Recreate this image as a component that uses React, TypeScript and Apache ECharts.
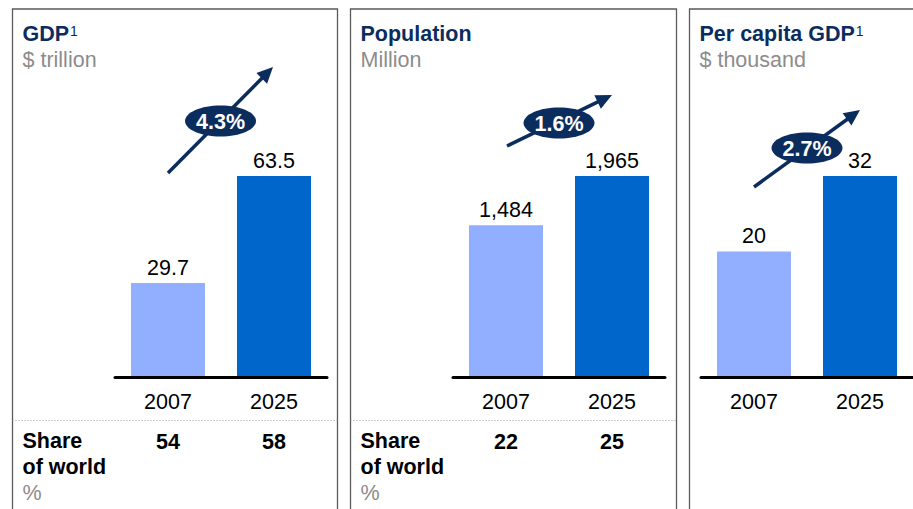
import React, { useEffect, useRef } from "react";
import * as echarts from "echarts";

const years = ["2007", "2025"];
const gdpValues = [29.7, 63.5];
const populationValues = [1484, 1965];
const perCapitaValues = [20, 32];
const gdpShareOfWorld = [54, 58];
const populationShareOfWorld = [22, 25];
const growthLabels = ["4.3%", "1.6%", "2.7%"];
const panelTitles = ["GDP", "Population", "Per capita GDP"];
const panelSuperscripts = ["1", "", "1"];
const panelUnits = ["$ trillion", "Million", "$ thousand"];
const shareTitle = ["Share", "of world"];
const shareUnit = "%";

const FONT = "Liberation Sans, Arial, Helvetica, sans-serif";
const FS = 21.5;
const NAVY = "#0b2d5e";
const GRAY = "#8c8c8c";
const BAR_COLORS = ["#91aeff", "#0066cc"];

function measure(text: string, font: string): number {
  const c = document.createElement("canvas").getContext("2d");
  if (!c) return text.length * 11;
  c.font = font;
  return c.measureText(text).width;
}

function arrow(x1: number, y1: number, x2: number, y2: number): any[] {
  const a = Math.atan2(y2 - y1, x2 - x1);
  const L = 16;
  const W = 7.5;
  const bx = x2 - L * Math.cos(a);
  const by = y2 - L * Math.sin(a);
  const px = -Math.sin(a);
  const py = Math.cos(a);
  return [
    {
      type: "line",
      shape: { x1, y1, x2: bx + 2 * Math.cos(a), y2: by + 2 * Math.sin(a) },
      style: { stroke: NAVY, lineWidth: 3.5 },
      z: 10,
    },
    {
      type: "polygon",
      shape: {
        points: [
          [x2, y2],
          [bx + px * W, by + py * W],
          [bx - px * W, by - py * W],
        ],
      },
      style: { fill: NAVY },
      z: 10,
    },
  ];
}

export default function App() {
  const ref = useRef<HTMLDivElement>(null);

  useEffect(() => {
    if (!ref.current) return;
    const chart = echarts.init(ref.current, null, { renderer: "svg" });

    const panels = [
      { border: 12.5, width: 325, axisLeft: 115, values: gdpValues, share: gdpShareOfWorld, arrow: [168, 173, 273, 67], ell: [220.5, 121] },
      { border: 350.5, width: 326, axisLeft: 453, values: populationValues, share: populationShareOfWorld, arrow: [507, 146, 612, 95], ell: [559, 123] },
      { border: 689.5, width: 300, axisLeft: 701, values: perCapitaValues, share: null as number[] | null, arrow: [754, 187, 860, 110], ell: [807, 148] },
    ];

    const grids = panels.map((p) => ({ left: p.axisLeft, top: 176, width: 212, height: 201 }));
    const xAxes = panels.map((_, i) => ({
      type: "category",
      gridIndex: i,
      data: years,
      z: 10,
      axisLine: { show: true, lineStyle: { color: "#000", width: 3 } },
      axisTick: { show: false },
      axisLabel: { color: "#000", fontSize: FS, fontFamily: FONT, margin: 14 },
    }));
    const yAxes = panels.map((p, i) => ({
      type: "value",
      gridIndex: i,
      min: 0,
      max: Math.max(...p.values),
      show: false,
      splitLine: { show: false },
    }));
    const series = panels.map((p, i) => ({
      type: "bar",
      xAxisIndex: i,
      yAxisIndex: i,
      barWidth: 74,
      data: p.values.map((v, j) => ({ value: v, itemStyle: { color: BAR_COLORS[j] } })),
      label: {
        show: true,
        position: "top",
        distance: 4,
        color: "#000",
        fontSize: FS,
        fontFamily: FONT,
        formatter: (d: any) => Number(d.value).toLocaleString("en-US"),
      },
    }));

    const graphics: any[] = [];
    panels.forEach((p, i) => {
      graphics.push({
        type: "rect",
        shape: { x: p.border, y: 9, width: p.width, height: 530 },
        style: { fill: "none", stroke: "#5a5a5a", lineWidth: 1.3 },
        z: 1,
      });
      const tx = p.border + 10;
      const titleFont = `bold ${FS}px ${FONT}`;
      graphics.push({
        type: "text",
        x: tx,
        y: 34,
        style: { text: panelTitles[i], fill: NAVY, fontSize: FS, fontWeight: "bold", fontFamily: FONT, verticalAlign: "middle", align: "left" },
        z: 5,
      });
      if (panelSuperscripts[i]) {
        const w = measure(panelTitles[i], titleFont);
        graphics.push({
          type: "text",
          x: tx + w + 1,
          y: 24,
          style: { text: panelSuperscripts[i], fill: NAVY, fontSize: 14, fontFamily: FONT, verticalAlign: "top", align: "left" },
          z: 5,
        });
      }
      graphics.push({
        type: "text",
        x: tx,
        y: 60,
        style: { text: panelUnits[i], fill: GRAY, fontSize: FS, fontFamily: FONT, verticalAlign: "middle", align: "left" },
        z: 5,
      });
      const [x1, y1, x2, y2] = p.arrow;
      graphics.push(...arrow(x1, y1, x2, y2));
      graphics.push({
        type: "ellipse",
        shape: { cx: p.ell[0], cy: p.ell[1], rx: 35.5, ry: 15.5 },
        style: { fill: NAVY },
        z: 11,
      });
      graphics.push({
        type: "text",
        x: p.ell[0],
        y: p.ell[1] + 1,
        style: { text: growthLabels[i], fill: "#fff", fontSize: FS, fontWeight: "bold", fontFamily: FONT, align: "center", verticalAlign: "middle" },
        z: 12,
      });
      if (p.share) {
        graphics.push({
          type: "line",
          shape: { x1: p.border, y1: 420.5, x2: p.border + p.width, y2: 420.5 },
          style: { stroke: "#9a9a9a", lineWidth: 1, lineDash: [1, 2] },
          z: 5,
        });
        graphics.push({
          type: "text",
          x: tx,
          y: 441,
          style: { text: shareTitle[0], fill: "#000", fontSize: FS, fontWeight: "bold", fontFamily: FONT, verticalAlign: "middle" },
          z: 5,
        });
        graphics.push({
          type: "text",
          x: tx,
          y: 467,
          style: { text: shareTitle[1], fill: "#000", fontSize: FS, fontWeight: "bold", fontFamily: FONT, verticalAlign: "middle" },
          z: 5,
        });
        graphics.push({
          type: "text",
          x: tx,
          y: 493,
          style: { text: shareUnit, fill: GRAY, fontSize: FS, fontFamily: FONT, verticalAlign: "middle" },
          z: 5,
        });
        p.share.forEach((s, j) => {
          graphics.push({
            type: "text",
            x: p.axisLeft + 53 + 106 * j,
            y: 442,
            style: { text: String(s), fill: "#000", fontSize: FS, fontWeight: "bold", fontFamily: FONT, align: "center", verticalAlign: "middle" },
            z: 5,
          });
        });
      }
    });

    chart.setOption({
      animation: false,
      backgroundColor: "#fff",
      grid: grids,
      xAxis: xAxes,
      yAxis: yAxes,
      series,
      graphic: graphics,
    } as any);

    return () => chart.dispose();
  }, []);

  return <div ref={ref} style={{ position: "absolute", left: 0, top: 0, width: 913, height: 509 }} />;
}
